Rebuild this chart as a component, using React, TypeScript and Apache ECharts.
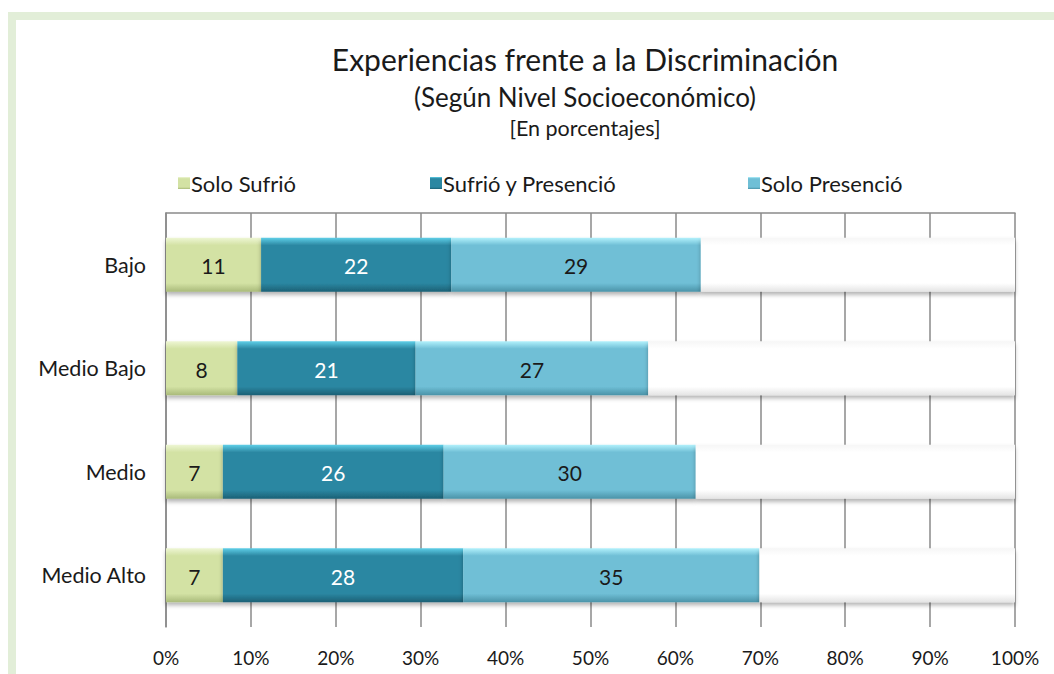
import React, { useEffect, useRef } from "react";
import * as echarts from "echarts";

const categories = ["Bajo", "Medio Bajo", "Medio", "Medio Alto"];
const seriesNames = ["Solo Sufrió", "Sufrió y Presenció", "Solo Presenció"];
const soloSufrio = [11.2, 8.4, 6.7, 6.7];
const sufrioYPresencio = [22.4, 21.0, 26.0, 28.3];
const soloPresencio = [29.4, 27.4, 29.7, 34.9];
const resto = [37.0, 43.2, 37.6, 30.1];

const titleText = "Experiencias frente a la Discriminación";
const subtitleText = "(Según Nivel Socioeconómico)";
const unitText = "[En porcentajes]";

const FONT = "Lato";

function bevel(top: string, face: string, bottom: string) {
  return new echarts.graphic.LinearGradient(0, 0, 0, 1, [
    { offset: 0, color: top },
    { offset: 0.14, color: face },
    { offset: 0.84, color: face },
    { offset: 1, color: bottom },
  ]);
}

export default function App() {
  const ref = useRef<HTMLDivElement>(null);
  useEffect(() => {
    if (!ref.current) return;
    const chart = echarts.init(ref.current, undefined, { renderer: "svg" });
    const shadow = {
      shadowColor: "rgba(0,0,0,0.3)",
      shadowBlur: 4,
      shadowOffsetY: 3,
    };
    const lbl = (color: string) => ({
      show: true,
      position: "inside" as const,
      color,
      fontFamily: FONT,
      fontSize: 21,
      offset: [0, 1],
      formatter: (p: any) => String(Math.round(p.value)),
    });
    const barCommon = {
      type: "bar" as const,
      stack: "total",
      barWidth: 54,
    };
    chart.setOption({
      animation: false,
      backgroundColor: "#ffffff",
      textStyle: { fontFamily: FONT },
      title: [
        {
          text: titleText,
          left: 580,
          top: 39,
          textAlign: "center",
          textStyle: { fontFamily: FONT, fontSize: 30, fontWeight: "normal", color: "#1a1a1a" },
        },
        {
          text: subtitleText,
          left: 580,
          top: 79,
          textAlign: "center",
          textStyle: { fontFamily: FONT, fontSize: 26, fontWeight: "normal", color: "#1a1a1a" },
        },
        {
          text: unitText,
          left: 580,
          top: 112,
          textAlign: "center",
          textStyle: { fontFamily: FONT, fontSize: 21.5, fontWeight: "normal", color: "#1a1a1a" },
        },
      ],
      legend: [0, 1, 2].map((i) => ({
        data: [seriesNames[i]],
        left: [173, 425, 743][i],
        top: 167,
        itemWidth: 12,
        itemHeight: 12,
        icon: "rect",
        textStyle: { fontFamily: FONT, fontSize: 22, color: "#1a1a1a", padding: [0, 0, 0, -4] },
      })),
      grid: { left: 166, right: 39, top: 213, bottom: 47, containLabel: false },
      xAxis: [
        {
          type: "value",
          min: 0,
          max: 100,
          interval: 10,
          axisLine: { show: false },
          axisTick: { show: false },
          axisLabel: {
            formatter: "{value}%",
            fontFamily: FONT,
            fontSize: 19,
            color: "#1a1a1a",
            margin: 21,
          },
          splitLine: { show: true, lineStyle: { color: "#8a8a8a", width: 1.5 } },
        },
        {
          type: "value",
          position: "top",
          min: 0,
          max: 100,
          interval: 10,
          axisLine: { show: true, lineStyle: { color: "#8a8a8a", width: 1.5 } },
          axisTick: { show: false },
          axisLabel: { show: false },
          splitLine: { show: false },
        },
      ],
      yAxis: {
        type: "category",
        data: categories,
        inverse: true,
        axisLine: { show: true, lineStyle: { color: "#8a8a8a", width: 1.5 } },
        axisTick: { show: false },
        axisLabel: { fontFamily: FONT, fontSize: 21.5, color: "#1a1a1a", margin: 20 },
      },
      series: [
        {
          ...barCommon,
          name: seriesNames[0],
          data: soloSufrio,
          itemStyle: { color: bevel("#eef6d4", "#d3e2a4", "#a9ba7a"), ...shadow },
          label: lbl("#1a1a1a"),
        },
        {
          ...barCommon,
          name: seriesNames[1],
          data: sufrioYPresencio,
          itemStyle: { color: bevel("#5fcfe8", "#2b87a2", "#1b6075"), ...shadow },
          label: lbl("#ffffff"),
        },
        {
          ...barCommon,
          name: seriesNames[2],
          data: soloPresencio,
          itemStyle: { color: bevel("#b2f1fc", "#6fbfd6", "#4b93a8"), ...shadow },
          label: lbl("#1a1a1a"),
        },
        {
          ...barCommon,
          name: "Resto",
          data: resto,
          itemStyle: { color: bevel("#f6f6f6", "#ffffff", "#e4e4e4"), ...shadow },
          label: { show: false },
        },
      ],
      graphic: [
        { type: "rect", shape: { x: 8, y: 12, width: 8, height: 662 }, style: { fill: "#e2eed8" }, silent: true },
        { type: "rect", shape: { x: 8, y: 12, width: 1046, height: 8 }, style: { fill: "#e2eed8" }, silent: true },
      ],
    });
    return () => chart.dispose();
  }, []);
  return (
    <div
      ref={ref}
      style={{ position: "fixed", left: 0, top: 0, width: 1054, height: 674 }}
    />
  );
}
